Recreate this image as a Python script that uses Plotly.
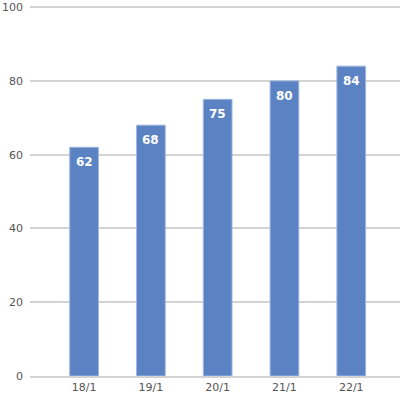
import plotly.graph_objects as go

categories = ["18/1", "19/1", "20/1", "21/1", "22/1"]
values = [62, 68, 75, 80, 84]
y_ticks = [0, 20, 40, 60, 80, 100]

fig = go.Figure()
fig.add_trace(go.Bar(
    x=categories, y=values, width=0.43,
    marker=dict(color="#5b83c4", line=dict(color="#9fb6e0", width=1)),
    hoverinfo="skip",
))
for c, v in zip(categories, values):
    fig.add_annotation(x=c, y=v, text=f"<b>{v}</b>", showarrow=False,
                       yanchor="top", yshift=-6,
                       font=dict(family="DejaVu Sans", size=12, color="white"))

fig.update_layout(
    width=400, height=398,
    margin=dict(l=30, r=0, t=6, b=22),
    plot_bgcolor="white", paper_bgcolor="white",
    showlegend=False,
    font=dict(family="DejaVu Sans", size=11, color="#555555"),
    xaxis=dict(range=[-0.81, 4.73], showgrid=False, showline=True,
               linecolor="#d3d3d3", linewidth=2, ticks="", tickfont=dict(size=11)),
    yaxis=dict(range=[0, 100.3], tickvals=y_ticks, showgrid=True,
               gridcolor="#d3d3d3", gridwidth=2, zeroline=False,
               showline=False, ticks="", ticklabelstandoff=6),
)
fig.write_html("out.html", config={"displayModeBar": False},
               post_script="document.body.style.margin='0px';")
